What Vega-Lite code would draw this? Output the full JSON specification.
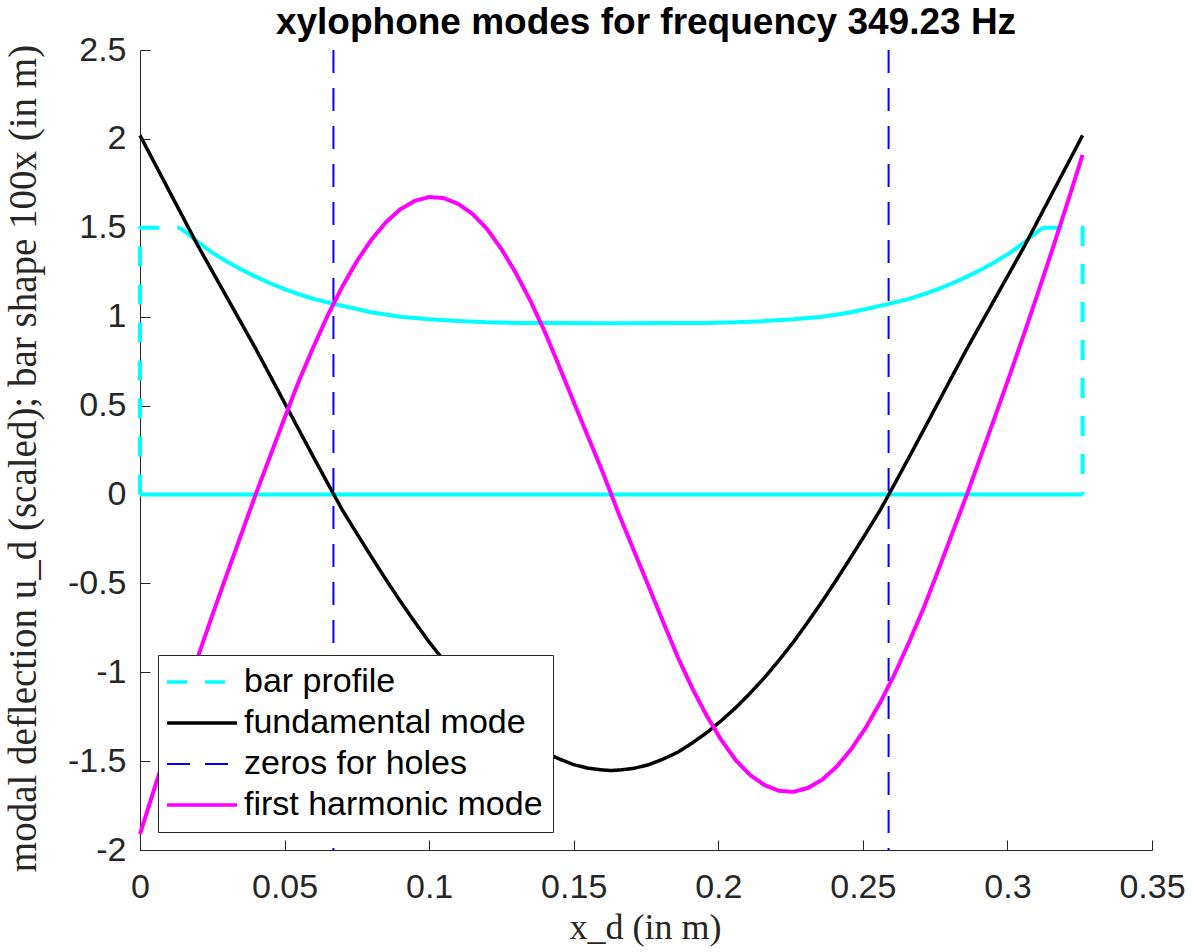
{
  "$schema": "https://vega.github.io/schema/vega-lite/v6.json",
  "width": 1012,
  "height": 800,
  "autosize": {"type": "none"},
  "padding": {"left": 140, "top": 50, "right": 41, "bottom": 102},
  "background": "white",
  "title": {"text": "xylophone modes for frequency 349.23 Hz", "font": "Liberation Sans", "fontSize": 37, "fontWeight": "bold", "color": "#000000", "anchor": "middle", "baseline": "alphabetic", "offset": 13, "dy": 51, "frame": "group"},
  "config": {
    "view": {"stroke": null},
    "axis": {"domainColor": "#262626", "tickColor": "#262626", "labelColor": "#262626", "labelFont": "Liberation Sans", "labelFontSize": 34, "titleFont": "Liberation Serif", "titleFontWeight": "normal", "titleColor": "#262626", "grid": false, "tickSize": -10, "domainWidth": 1, "tickWidth": 1, "labelFlush": false, "labelOverlap": false}
  },
  "datasets": {
    "curves": [
      {"s": "bar profile", "p": "left", "i": 0, "x": 0, "y": 0},
      {"s": "bar profile", "p": "left", "i": 1, "x": 0, "y": 1.5},
      {"s": "bar profile", "p": "left", "i": 2, "x": 0.0138, "y": 1.5},
      {"s": "bar profile", "p": "top", "i": 0, "x": 0.0138, "y": 1.5},
      {"s": "bar profile", "p": "top", "i": 1, "x": 0.017, "y": 1.46},
      {"s": "bar profile", "p": "top", "i": 2, "x": 0.02, "y": 1.42},
      {"s": "bar profile", "p": "top", "i": 3, "x": 0.025, "y": 1.36},
      {"s": "bar profile", "p": "top", "i": 4, "x": 0.03, "y": 1.31},
      {"s": "bar profile", "p": "top", "i": 5, "x": 0.035, "y": 1.265},
      {"s": "bar profile", "p": "top", "i": 6, "x": 0.04, "y": 1.225},
      {"s": "bar profile", "p": "top", "i": 7, "x": 0.045, "y": 1.188},
      {"s": "bar profile", "p": "top", "i": 8, "x": 0.05, "y": 1.155},
      {"s": "bar profile", "p": "top", "i": 9, "x": 0.055, "y": 1.126},
      {"s": "bar profile", "p": "top", "i": 10, "x": 0.06, "y": 1.1},
      {"s": "bar profile", "p": "top", "i": 11, "x": 0.067, "y": 1.072},
      {"s": "bar profile", "p": "top", "i": 12, "x": 0.075, "y": 1.043},
      {"s": "bar profile", "p": "top", "i": 13, "x": 0.08, "y": 1.025},
      {"s": "bar profile", "p": "top", "i": 14, "x": 0.09, "y": 1.0},
      {"s": "bar profile", "p": "top", "i": 15, "x": 0.1, "y": 0.985},
      {"s": "bar profile", "p": "top", "i": 16, "x": 0.11, "y": 0.975},
      {"s": "bar profile", "p": "top", "i": 17, "x": 0.12, "y": 0.968},
      {"s": "bar profile", "p": "top", "i": 18, "x": 0.13, "y": 0.965},
      {"s": "bar profile", "p": "top", "i": 19, "x": 0.14, "y": 0.964},
      {"s": "bar profile", "p": "top", "i": 20, "x": 0.163, "y": 0.963},
      {"s": "bar profile", "p": "top", "i": 21, "x": 0.186, "y": 0.964},
      {"s": "bar profile", "p": "top", "i": 22, "x": 0.196, "y": 0.965},
      {"s": "bar profile", "p": "top", "i": 23, "x": 0.206, "y": 0.968},
      {"s": "bar profile", "p": "top", "i": 24, "x": 0.216, "y": 0.975},
      {"s": "bar profile", "p": "top", "i": 25, "x": 0.226, "y": 0.985},
      {"s": "bar profile", "p": "top", "i": 26, "x": 0.236, "y": 1.0},
      {"s": "bar profile", "p": "top", "i": 27, "x": 0.246, "y": 1.025},
      {"s": "bar profile", "p": "top", "i": 28, "x": 0.251, "y": 1.043},
      {"s": "bar profile", "p": "top", "i": 29, "x": 0.259, "y": 1.072},
      {"s": "bar profile", "p": "top", "i": 30, "x": 0.266, "y": 1.1},
      {"s": "bar profile", "p": "top", "i": 31, "x": 0.271, "y": 1.126},
      {"s": "bar profile", "p": "top", "i": 32, "x": 0.276, "y": 1.155},
      {"s": "bar profile", "p": "top", "i": 33, "x": 0.281, "y": 1.188},
      {"s": "bar profile", "p": "top", "i": 34, "x": 0.286, "y": 1.225},
      {"s": "bar profile", "p": "top", "i": 35, "x": 0.291, "y": 1.265},
      {"s": "bar profile", "p": "top", "i": 36, "x": 0.296, "y": 1.31},
      {"s": "bar profile", "p": "top", "i": 37, "x": 0.301, "y": 1.36},
      {"s": "bar profile", "p": "top", "i": 38, "x": 0.306, "y": 1.42},
      {"s": "bar profile", "p": "top", "i": 39, "x": 0.309, "y": 1.46},
      {"s": "bar profile", "p": "top", "i": 40, "x": 0.3122, "y": 1.5},
      {"s": "bar profile", "p": "right", "i": 0, "x": 0.3122, "y": 1.5},
      {"s": "bar profile", "p": "right", "i": 1, "x": 0.326, "y": 1.5},
      {"s": "bar profile", "p": "right", "i": 2, "x": 0.326, "y": 0},
      {"s": "bar profile", "p": "bottom", "i": 0, "x": 0, "y": 0},
      {"s": "bar profile", "p": "bottom", "i": 1, "x": 0.326, "y": 0},

      {"s": "fundamental mode", "x": 0, "y": 2.02},
      {"s": "fundamental mode", "x": 0.005, "y": 1.865},
      {"s": "fundamental mode", "x": 0.01, "y": 1.71},
      {"s": "fundamental mode", "x": 0.015, "y": 1.555},
      {"s": "fundamental mode", "x": 0.02, "y": 1.4},
      {"s": "fundamental mode", "x": 0.025, "y": 1.255},
      {"s": "fundamental mode", "x": 0.03, "y": 1.11},
      {"s": "fundamental mode", "x": 0.035, "y": 0.965},
      {"s": "fundamental mode", "x": 0.04, "y": 0.82},
      {"s": "fundamental mode", "x": 0.045, "y": 0.668},
      {"s": "fundamental mode", "x": 0.05, "y": 0.515},
      {"s": "fundamental mode", "x": 0.055, "y": 0.362},
      {"s": "fundamental mode", "x": 0.06, "y": 0.21},
      {"s": "fundamental mode", "x": 0.065, "y": 0.06},
      {"s": "fundamental mode", "x": 0.07, "y": -0.088},
      {"s": "fundamental mode", "x": 0.075, "y": -0.22},
      {"s": "fundamental mode", "x": 0.08, "y": -0.35},
      {"s": "fundamental mode", "x": 0.085, "y": -0.477},
      {"s": "fundamental mode", "x": 0.09, "y": -0.6},
      {"s": "fundamental mode", "x": 0.095, "y": -0.717},
      {"s": "fundamental mode", "x": 0.1, "y": -0.83},
      {"s": "fundamental mode", "x": 0.105, "y": -0.933},
      {"s": "fundamental mode", "x": 0.11, "y": -1.03},
      {"s": "fundamental mode", "x": 0.115, "y": -1.118},
      {"s": "fundamental mode", "x": 0.12, "y": -1.2},
      {"s": "fundamental mode", "x": 0.125, "y": -1.273},
      {"s": "fundamental mode", "x": 0.13, "y": -1.34},
      {"s": "fundamental mode", "x": 0.135, "y": -1.398},
      {"s": "fundamental mode", "x": 0.14, "y": -1.45},
      {"s": "fundamental mode", "x": 0.145, "y": -1.488},
      {"s": "fundamental mode", "x": 0.15, "y": -1.52},
      {"s": "fundamental mode", "x": 0.155, "y": -1.54},
      {"s": "fundamental mode", "x": 0.16, "y": -1.55},
      {"s": "fundamental mode", "x": 0.163, "y": -1.553},
      {"s": "fundamental mode", "x": 0.166, "y": -1.55},
      {"s": "fundamental mode", "x": 0.171, "y": -1.54},
      {"s": "fundamental mode", "x": 0.176, "y": -1.52},
      {"s": "fundamental mode", "x": 0.181, "y": -1.488},
      {"s": "fundamental mode", "x": 0.186, "y": -1.45},
      {"s": "fundamental mode", "x": 0.191, "y": -1.398},
      {"s": "fundamental mode", "x": 0.196, "y": -1.34},
      {"s": "fundamental mode", "x": 0.201, "y": -1.273},
      {"s": "fundamental mode", "x": 0.206, "y": -1.2},
      {"s": "fundamental mode", "x": 0.211, "y": -1.118},
      {"s": "fundamental mode", "x": 0.216, "y": -1.03},
      {"s": "fundamental mode", "x": 0.221, "y": -0.933},
      {"s": "fundamental mode", "x": 0.226, "y": -0.83},
      {"s": "fundamental mode", "x": 0.231, "y": -0.717},
      {"s": "fundamental mode", "x": 0.236, "y": -0.6},
      {"s": "fundamental mode", "x": 0.241, "y": -0.477},
      {"s": "fundamental mode", "x": 0.246, "y": -0.35},
      {"s": "fundamental mode", "x": 0.251, "y": -0.22},
      {"s": "fundamental mode", "x": 0.256, "y": -0.088},
      {"s": "fundamental mode", "x": 0.261, "y": 0.06},
      {"s": "fundamental mode", "x": 0.266, "y": 0.21},
      {"s": "fundamental mode", "x": 0.271, "y": 0.362},
      {"s": "fundamental mode", "x": 0.276, "y": 0.515},
      {"s": "fundamental mode", "x": 0.281, "y": 0.668},
      {"s": "fundamental mode", "x": 0.286, "y": 0.82},
      {"s": "fundamental mode", "x": 0.291, "y": 0.965},
      {"s": "fundamental mode", "x": 0.296, "y": 1.11},
      {"s": "fundamental mode", "x": 0.301, "y": 1.255},
      {"s": "fundamental mode", "x": 0.306, "y": 1.4},
      {"s": "fundamental mode", "x": 0.311, "y": 1.555},
      {"s": "fundamental mode", "x": 0.316, "y": 1.71},
      {"s": "fundamental mode", "x": 0.321, "y": 1.865},
      {"s": "fundamental mode", "x": 0.326, "y": 2.02},

      {"s": "first harmonic mode", "x": 0, "y": -1.91},
      {"s": "first harmonic mode", "x": 0.005, "y": -1.653},
      {"s": "first harmonic mode", "x": 0.01, "y": -1.401},
      {"s": "first harmonic mode", "x": 0.015, "y": -1.155},
      {"s": "first harmonic mode", "x": 0.02, "y": -0.915},
      {"s": "first harmonic mode", "x": 0.025, "y": -0.68},
      {"s": "first harmonic mode", "x": 0.03, "y": -0.451},
      {"s": "first harmonic mode", "x": 0.035, "y": -0.225},
      {"s": "first harmonic mode", "x": 0.04, "y": 0.0},
      {"s": "first harmonic mode", "x": 0.045, "y": 0.215},
      {"s": "first harmonic mode", "x": 0.05, "y": 0.43},
      {"s": "first harmonic mode", "x": 0.055, "y": 0.64},
      {"s": "first harmonic mode", "x": 0.06, "y": 0.83},
      {"s": "first harmonic mode", "x": 0.065, "y": 1.01},
      {"s": "first harmonic mode", "x": 0.07, "y": 1.17},
      {"s": "first harmonic mode", "x": 0.075, "y": 1.312},
      {"s": "first harmonic mode", "x": 0.08, "y": 1.432},
      {"s": "first harmonic mode", "x": 0.085, "y": 1.53},
      {"s": "first harmonic mode", "x": 0.09, "y": 1.604},
      {"s": "first harmonic mode", "x": 0.095, "y": 1.651},
      {"s": "first harmonic mode", "x": 0.1, "y": 1.673},
      {"s": "first harmonic mode", "x": 0.105, "y": 1.667},
      {"s": "first harmonic mode", "x": 0.11, "y": 1.635},
      {"s": "first harmonic mode", "x": 0.115, "y": 1.578},
      {"s": "first harmonic mode", "x": 0.12, "y": 1.494},
      {"s": "first harmonic mode", "x": 0.125, "y": 1.38},
      {"s": "first harmonic mode", "x": 0.13, "y": 1.245},
      {"s": "first harmonic mode", "x": 0.135, "y": 1.09},
      {"s": "first harmonic mode", "x": 0.14, "y": 0.915},
      {"s": "first harmonic mode", "x": 0.145, "y": 0.72},
      {"s": "first harmonic mode", "x": 0.15, "y": 0.52},
      {"s": "first harmonic mode", "x": 0.155, "y": 0.323},
      {"s": "first harmonic mode", "x": 0.16, "y": 0.126},
      {"s": "first harmonic mode", "x": 0.163, "y": 0},
      {"s": "first harmonic mode", "x": 0.166, "y": -0.126},
      {"s": "first harmonic mode", "x": 0.171, "y": -0.323},
      {"s": "first harmonic mode", "x": 0.176, "y": -0.52},
      {"s": "first harmonic mode", "x": 0.181, "y": -0.72},
      {"s": "first harmonic mode", "x": 0.186, "y": -0.915},
      {"s": "first harmonic mode", "x": 0.191, "y": -1.09},
      {"s": "first harmonic mode", "x": 0.196, "y": -1.245},
      {"s": "first harmonic mode", "x": 0.201, "y": -1.38},
      {"s": "first harmonic mode", "x": 0.206, "y": -1.494},
      {"s": "first harmonic mode", "x": 0.211, "y": -1.578},
      {"s": "first harmonic mode", "x": 0.216, "y": -1.635},
      {"s": "first harmonic mode", "x": 0.221, "y": -1.667},
      {"s": "first harmonic mode", "x": 0.226, "y": -1.673},
      {"s": "first harmonic mode", "x": 0.231, "y": -1.651},
      {"s": "first harmonic mode", "x": 0.236, "y": -1.604},
      {"s": "first harmonic mode", "x": 0.241, "y": -1.53},
      {"s": "first harmonic mode", "x": 0.246, "y": -1.432},
      {"s": "first harmonic mode", "x": 0.251, "y": -1.312},
      {"s": "first harmonic mode", "x": 0.256, "y": -1.17},
      {"s": "first harmonic mode", "x": 0.261, "y": -1.01},
      {"s": "first harmonic mode", "x": 0.266, "y": -0.83},
      {"s": "first harmonic mode", "x": 0.271, "y": -0.64},
      {"s": "first harmonic mode", "x": 0.276, "y": -0.43},
      {"s": "first harmonic mode", "x": 0.281, "y": -0.215},
      {"s": "first harmonic mode", "x": 0.286, "y": 0.0},
      {"s": "first harmonic mode", "x": 0.291, "y": 0.225},
      {"s": "first harmonic mode", "x": 0.296, "y": 0.451},
      {"s": "first harmonic mode", "x": 0.301, "y": 0.68},
      {"s": "first harmonic mode", "x": 0.306, "y": 0.915},
      {"s": "first harmonic mode", "x": 0.311, "y": 1.155},
      {"s": "first harmonic mode", "x": 0.316, "y": 1.401},
      {"s": "first harmonic mode", "x": 0.321, "y": 1.653},
      {"s": "first harmonic mode", "x": 0.326, "y": 1.91}
    ],
    "zeros": [
      {"s": "zeros for holes", "x": 0.0669},
      {"s": "zeros for holes", "x": 0.2589}
    ]
  },
  "layer": [
    {
      "data": {"name": "curves"},
      "transform": [{"filter": "datum.s === 'bar profile' && (datum.p === 'top' || datum.p === 'bottom')"}],
      "mark": {"type": "line", "strokeWidth": 4, "strokeJoin": "round"},
      "encoding": {
        "x": {"field": "x", "type": "quantitative", "scale": {"domain": [0, 0.35], "nice": false, "zero": false},
              "axis": {"values": [0, 0.05, 0.1, 0.15, 0.2, 0.25, 0.3, 0.35], "labelExpr": "'' + datum.value", "labelPadding": 30, "title": "x_d (in m)", "titleFontSize": 36, "titleX": 505, "titleY": 88, "titleBaseline": "alphabetic", "titleAlign": "center"}},
        "y": {"field": "y", "type": "quantitative", "scale": {"domain": [-2, 2.5], "nice": false, "zero": false},
              "axis": {"values": [-2, -1.5, -1, -0.5, 0, 0.5, 1, 1.5, 2, 2.5], "labelExpr": "'' + datum.value", "labelPadding": 24, "title": "modal deflection u_d (scaled); bar shape 100x (in m)", "titleFontSize": 39, "titleX": -105, "titleY": 408, "titleBaseline": "alphabetic", "titleAlign": "center", "titleAngle": -90}},
        "color": {"field": "s", "type": "nominal",
                  "scale": {"domain": ["bar profile", "fundamental mode", "zeros for holes", "first harmonic mode"], "range": ["#00FFFF", "#000000", "#0000FF", "#FF00FF"]},
                  "legend": {"orient": "none", "legendX": 18, "legendY": 605, "title": null, "fillColor": "white", "strokeColor": "#262626", "padding": 10, "symbolType": "M-1.8,0H5.2", "symbolSize": 400, "symbolStrokeWidth": 3.5, "labelFont": "Liberation Sans", "labelFontSize": 34, "labelColor": "#000000", "labelOffset": 42, "rowPadding": 7, "labelLimit": 0,
                             "encode": {"symbols": {"update": {"strokeWidth": {"signal": "datum.value === 'zeros for holes' ? 2 : 3.5"}}}}}},
        "detail": {"field": "p", "type": "nominal"},
        "order": {"field": "i", "type": "quantitative"}
      }
    },
    {
      "data": {"name": "curves"},
      "transform": [{"filter": "datum.s === 'bar profile' && (datum.p === 'left' || datum.p === 'right')"}],
      "mark": {"type": "line", "strokeWidth": 4, "strokeJoin": "round"},
      "encoding": {
        "x": {"field": "x", "type": "quantitative"},
        "y": {"field": "y", "type": "quantitative"},
        "color": {"field": "s", "type": "nominal"},
        "strokeDash": {"field": "s", "type": "nominal",
                       "scale": {"domain": ["bar profile", "fundamental mode", "zeros for holes", "first harmonic mode"], "range": [[20, 18], [1, 0], [23, 15], [1, 0]]}},
        "detail": {"field": "p", "type": "nominal"},
        "order": {"field": "i", "type": "quantitative"}
      }
    },
    {
      "data": {"name": "curves"},
      "transform": [{"filter": "datum.s === 'fundamental mode'"}],
      "mark": {"type": "line", "strokeWidth": 3.5, "strokeJoin": "round"},
      "encoding": {
        "x": {"field": "x", "type": "quantitative"},
        "y": {"field": "y", "type": "quantitative"},
        "color": {"field": "s", "type": "nominal"},
        "strokeDash": {"field": "s", "type": "nominal"}
      }
    },
    {
      "data": {"name": "zeros"},
      "mark": {"type": "rule", "strokeWidth": 2},
      "encoding": {
        "x": {"field": "x", "type": "quantitative"},
        "color": {"field": "s", "type": "nominal"},
        "strokeDash": {"field": "s", "type": "nominal"}
      }
    },
    {
      "data": {"name": "curves"},
      "transform": [{"filter": "datum.s === 'first harmonic mode'"}],
      "mark": {"type": "line", "strokeWidth": 4, "strokeJoin": "round"},
      "encoding": {
        "x": {"field": "x", "type": "quantitative"},
        "y": {"field": "y", "type": "quantitative"},
        "color": {"field": "s", "type": "nominal"},
        "strokeDash": {"field": "s", "type": "nominal"}
      }
    }
  ]
}
